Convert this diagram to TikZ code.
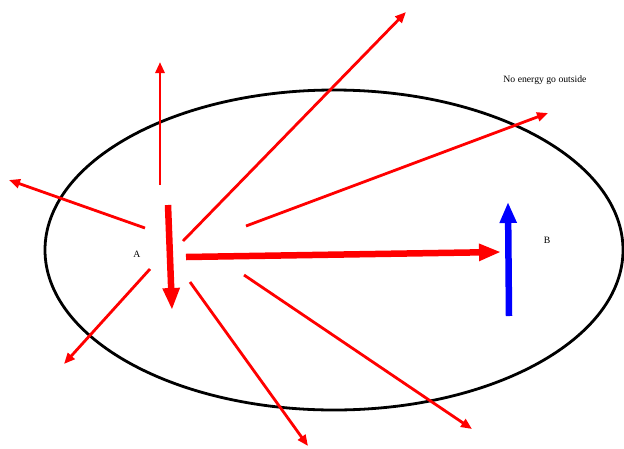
\documentclass[tikz,border=0pt]{standalone}
\usepackage{fontspec}
\setmainfont{Liberation Serif}
\usetikzlibrary{arrows.meta}
\begin{document}
\begin{tikzpicture}[x=1pt,y=-1pt,
  thinarrow/.style={draw=red,line width=2.8pt,-{Triangle[length=11pt,width=9pt]}},
  thickarrow/.style={draw=red,line width=6.5pt,-{Triangle[length=22pt,width=16pt]}},
  bluearrow/.style={draw=blue,line width=6.5pt,-{Triangle[length=21pt,width=16pt]}},
  lbl/.style={font=\fontsize{9.7}{11}\selectfont,inner sep=0pt}]
\useasboundingbox (0,0) rectangle (624,448);
\draw[line width=2.8pt] (334,250) ellipse [x radius=289, y radius=160];
% thin arrows
\coordinate (s1) at (160,185); \coordinate (e1) at (160,62);
\coordinate (s2) at (145,228); \coordinate (e2) at (9,180);
\coordinate (s3) at (150,269); \coordinate (e3) at (64,364);
\coordinate (s4) at (190,282); \coordinate (e4) at (308,446);
\coordinate (s5) at (183,241); \coordinate (e5) at (406,12);
\coordinate (s6) at (246,226); \coordinate (e6) at (548,113);
\coordinate (s7) at (244,275); \coordinate (e7) at (472,429);
\draw[thinarrow] (s1) -- (e1);
\draw[thinarrow] (s2) -- (e2);
\draw[thinarrow] (s3) -- (e3);
\draw[thinarrow] (s4) -- (e4);
\draw[thinarrow] (s5) -- (e5);
\draw[thinarrow] (s6) -- (e6);
\draw[thinarrow] (s7) -- (e7);
% thick arrows
\coordinate (d1) at (168,205); \coordinate (d2) at (172,310);
\coordinate (h1) at (186,257); \coordinate (h2) at (501,252);
\coordinate (b1) at (509,316); \coordinate (b2) at (508,202);
\draw[thickarrow] (d1) -- (d2);
\draw[thickarrow] (h1) -- (h2);
\draw[bluearrow] (b1) -- (b2);
\node[lbl] (A) at (137,254) {A};
\node[lbl] (B) at (547,240) {B};
\node[lbl] (N) at (545,80) {No energy go outside};
\end{tikzpicture}
\end{document}
